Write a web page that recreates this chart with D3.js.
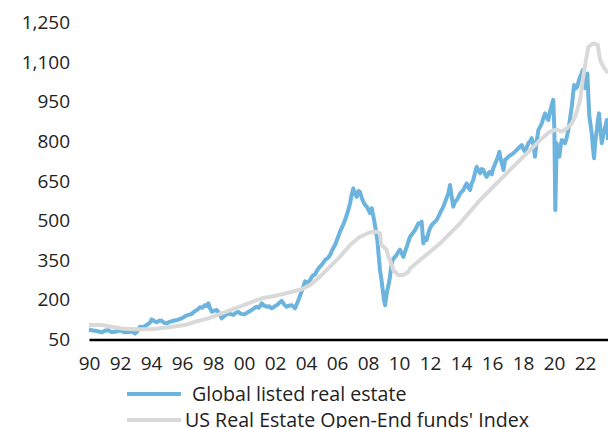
<!DOCTYPE html>
<meta charset="utf-8">
<style>
body { margin: 0; background: #fff; }
text { font-family: "Open Sans", sans-serif; fill: #222; }
.axis text { font-size: 19px; }
.legend text { font-size: 19.6px; }
</style>
<svg width="608" height="428"></svg>
<script src="https://cdn.jsdelivr.net/npm/d3@7"></script>
<script>

var svg = d3.select("svg"),
    width = +svg.attr("width"),
    height = +svg.attr("height");

// tick values (years on x, index level on y)
var yearTicks  = d3.range(1990, 2023, 2);
var valueTicks = [50, 200, 350, 500, 650, 800, 950, 1100, 1250];
var seriesNames = [" Global listed real estate", "US Real Estate Open-End funds' Index"];

// Global listed real estate, [year, index]
var listedRE = [
  [1990.00, 88], [1990.25, 84], [1990.50, 82], [1990.82, 77], [1991.05, 84], [1991.25, 85],
  [1991.45, 78], [1991.68, 79], [1991.90, 84], [1992.11, 82], [1992.30, 77], [1992.54, 78],
  [1992.75, 80], [1992.97, 73], [1993.10, 80], [1993.29, 98], [1993.50, 97], [1993.72, 105],
  [1993.90, 112], [1994.05, 126], [1994.20, 120], [1994.37, 115], [1994.55, 122], [1994.69, 121],
  [1994.85, 113], [1995.01, 111], [1995.20, 117], [1995.44, 121], [1995.70, 124], [1995.98, 130],
  [1996.20, 138], [1996.41, 143], [1996.60, 146], [1996.84, 158], [1997.00, 163], [1997.16, 172],
  [1997.30, 170], [1997.48, 180], [1997.60, 176], [1997.70, 187], [1997.80, 170], [1997.92, 155],
  [1998.05, 158], [1998.24, 162], [1998.40, 148], [1998.56, 130], [1998.75, 140], [1998.99, 149],
  [1999.15, 146], [1999.31, 143], [1999.45, 150], [1999.63, 155], [1999.80, 147], [2000.06, 146],
  [2000.30, 155], [2000.50, 162], [2000.65, 168], [2000.82, 174], [2000.95, 170], [2001.14, 187],
  [2001.30, 178], [2001.46, 174], [2001.60, 176], [2001.79, 168], [2001.95, 174], [2002.11, 180],
  [2002.30, 190], [2002.43, 196], [2002.60, 182], [2002.75, 174], [2002.90, 178], [2003.08, 180],
  [2003.29, 168], [2003.45, 190], [2003.61, 215], [2003.80, 245], [2003.94, 270], [2004.10, 262],
  [2004.26, 275], [2004.40, 290], [2004.58, 297], [2004.75, 315], [2004.90, 326], [2005.05, 335],
  [2005.23, 351], [2005.40, 358], [2005.55, 370], [2005.70, 390], [2005.87, 408], [2006.05, 435],
  [2006.19, 458], [2006.35, 478], [2006.52, 502], [2006.70, 535], [2006.84, 565], [2006.95, 600],
  [2007.05, 622], [2007.15, 600], [2007.27, 590], [2007.38, 612], [2007.48, 609], [2007.60, 585],
  [2007.70, 572], [2007.80, 560], [2007.92, 553], [2008.03, 540], [2008.13, 528], [2008.24, 547],
  [2008.35, 515], [2008.45, 483], [2008.60, 427], [2008.70, 360], [2008.77, 313], [2008.88, 270],
  [2008.95, 237], [2009.02, 205], [2009.10, 180], [2009.18, 215], [2009.25, 237], [2009.35, 265],
  [2009.42, 288], [2009.50, 330], [2009.59, 351], [2009.72, 362], [2009.85, 370], [2009.95, 382],
  [2010.06, 390], [2010.18, 375], [2010.28, 363], [2010.40, 385], [2010.50, 401], [2010.60, 420],
  [2010.71, 439], [2010.88, 452], [2011.03, 464], [2011.15, 478], [2011.25, 490], [2011.40, 488],
  [2011.46, 496], [2011.52, 450], [2011.57, 414], [2011.68, 435], [2011.79, 427], [2011.90, 455],
  [2012.00, 471], [2012.10, 482], [2012.21, 490], [2012.40, 500], [2012.54, 515], [2012.70, 535],
  [2012.86, 553], [2013.00, 575], [2013.18, 603], [2013.29, 635], [2013.40, 590], [2013.50, 553],
  [2013.60, 570], [2013.72, 578], [2013.84, 590], [2013.94, 603], [2014.05, 610], [2014.15, 616],
  [2014.26, 630], [2014.37, 641], [2014.48, 625], [2014.58, 616], [2014.68, 640], [2014.79, 654],
  [2014.90, 680], [2015.01, 704], [2015.12, 690], [2015.23, 679], [2015.33, 695], [2015.44, 692],
  [2015.55, 675], [2015.66, 666], [2015.77, 680], [2015.87, 685], [2015.98, 675], [2016.08, 698],
  [2016.20, 715], [2016.30, 730], [2016.40, 745], [2016.47, 761], [2016.55, 735], [2016.63, 717],
  [2016.74, 692], [2016.84, 730], [2016.95, 735], [2017.05, 742], [2017.20, 748], [2017.37, 755],
  [2017.55, 765], [2017.70, 774], [2017.80, 780], [2017.92, 786], [2018.02, 770], [2018.13, 761],
  [2018.25, 780], [2018.34, 793], [2018.45, 800], [2018.56, 812], [2018.66, 790], [2018.77, 742],
  [2018.88, 800], [2018.99, 843], [2019.10, 855], [2019.21, 868], [2019.32, 890], [2019.42, 906],
  [2019.53, 890], [2019.63, 881], [2019.75, 915], [2019.85, 938], [2019.95, 957], [2020.02, 843],
  [2020.08, 540], [2020.13, 680], [2020.17, 793], [2020.25, 760], [2020.34, 742], [2020.42, 780],
  [2020.50, 805], [2020.60, 800], [2020.71, 793], [2020.82, 815], [2020.92, 843], [2021.03, 885],
  [2021.14, 931], [2021.22, 975], [2021.29, 1013], [2021.40, 1000], [2021.50, 1007], [2021.60, 1030],
  [2021.68, 1045], [2021.77, 1055], [2021.85, 1070], [2021.93, 1030], [2022.00, 1001], [2022.08, 1040],
  [2022.15, 1057], [2022.22, 960], [2022.28, 893], [2022.36, 860], [2022.43, 830], [2022.50, 780],
  [2022.58, 736], [2022.66, 800], [2022.76, 843], [2022.83, 880], [2022.90, 906], [2023.00, 840],
  [2023.08, 793], [2023.15, 815], [2023.23, 843], [2023.32, 860], [2023.40, 881], [2023.48, 805]
];

// US Real Estate Open-End funds' Index, [year, index]
var openEnd = [
  [1990.00, 105], [1990.82, 105], [1991.46, 98], [1992.11, 92], [1992.97, 89], [1994.05, 89],
  [1995.12, 96], [1996.19, 105], [1996.84, 117], [1997.70, 130], [1998.56, 149], [1999.42, 168],
  [2000.28, 187], [2001.14, 206], [2002.00, 215], [2002.86, 227], [2003.72, 240], [2004.26, 256],
  [2004.90, 288], [2005.55, 326], [2006.19, 363], [2006.84, 408], [2007.48, 439], [2008.13, 456],
  [2008.56, 458], [2008.77, 452], [2008.85, 410], [2008.99, 401], [2009.21, 389], [2009.30, 365],
  [2009.42, 351], [2009.63, 313], [2009.95, 294], [2010.28, 294], [2010.60, 306], [2010.71, 319],
  [2011.35, 351], [2012.00, 382], [2012.65, 414], [2013.29, 452], [2013.94, 490], [2014.58, 534],
  [2015.23, 578], [2015.87, 616], [2016.52, 654], [2017.16, 692], [2017.81, 730], [2018.45, 767],
  [2019.10, 805], [2019.74, 837], [2020.17, 845], [2020.50, 837], [2020.82, 849], [2021.14, 868],
  [2021.35, 893], [2021.50, 919], [2021.68, 957], [2021.85, 1032], [2022.06, 1108], [2022.21, 1158],
  [2022.54, 1171], [2022.82, 1165], [2022.97, 1108], [2023.18, 1083], [2023.40, 1064], [2023.48, 1060]
];

var x = d3.scaleLinear()
    .domain([1990, 2023.48])
    .range([89, 608]);

var y = d3.scaleLinear()
    .domain([50, 1250])
    .range([339.5, 22.5]);

var line = d3.line()
    .x(function(d) { return x(d[0]); })
    .y(function(d) { return y(d[1]); });

// y axis, labels only
svg.append("g")
    .attr("class", "axis")
    .attr("transform", "translate(89,0)")
    .call(d3.axisLeft(y)
      .tickValues(valueTicks)
      .tickFormat(d3.format(","))
      .tickSize(0)
      .tickPadding(19))
  .call(function(g) { g.select(".domain").remove(); })
  .selectAll("text")
    .attr("fill", "#222");

// lines
svg.append("path")
    .datum(listedRE)
    .attr("fill", "none")
    .attr("stroke", "#6cb4de")
    .attr("stroke-width", 4)
    .attr("stroke-linejoin", "round")
    .attr("d", line);

svg.append("path")
    .datum(openEnd)
    .attr("fill", "none")
    .attr("stroke", "#d9d9d9")
    .attr("stroke-width", 4)
    .attr("stroke-linejoin", "round")
    .attr("d", line);

// x axis
var xAxis = svg.append("g")
    .attr("class", "axis")
    .attr("transform", "translate(0," + y(50) + ")")
    .call(d3.axisBottom(x)
      .tickValues(yearTicks)
      .tickFormat(function(d) { return d3.format("02")(d % 100); })
      .tickSize(0)
      .tickPadding(17));

xAxis.select(".domain")
    .attr("stroke", "#000")
    .attr("stroke-width", 2.5);
xAxis.selectAll("text").attr("fill", "#222");

// legend
var legend = svg.append("g")
    .attr("class", "legend");

var legendRows = legend.selectAll("g")
  .data(seriesNames)
  .enter().append("g")
    .attr("transform", function(d, i) { return "translate(127," + (394 + i * 26) + ")"; });

legendRows.append("line")
    .attr("x1", 0)
    .attr("x2", 54)
    .attr("stroke", function(d, i) { return i ? "#d9d9d9" : "#6cb4de"; })
    .attr("stroke-width", 4);

legendRows.append("text")
    .attr("x", function(d, i) { return i ? 58 : 60; })
    .attr("y", 6.5)
    .style("white-space", "pre")
    .attr("xml:space", "preserve")
    .text(function(d) { return d; });

</script>
